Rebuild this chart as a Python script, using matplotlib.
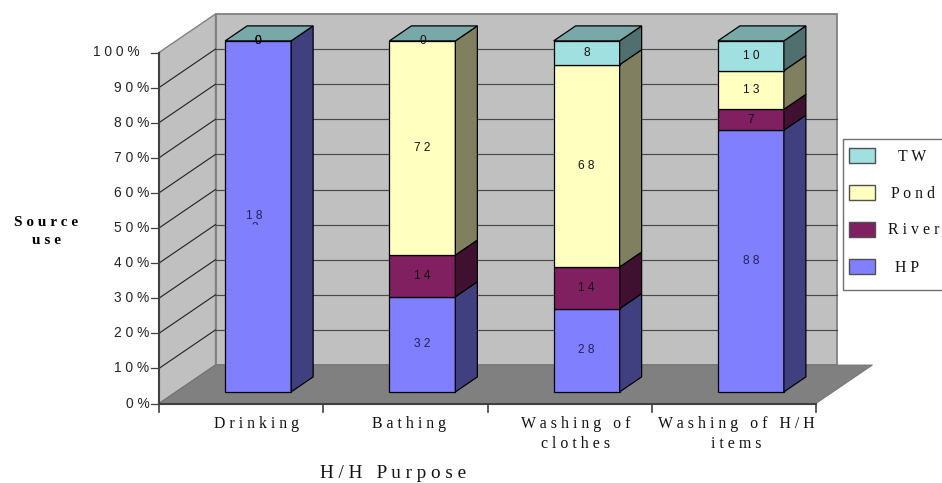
import matplotlib
matplotlib.use('Agg')
import matplotlib.pyplot as plt
from matplotlib.patches import Polygon, Rectangle

categories = [['D r i n k i n g'], ['B a t h i n g'], ['W a s h i n g   o f', 'c l o t h e s'], ['W a s h i n g   o f   H / H', 'i t e m s']]
cat_nudge = [0.095, 0.025, 0.035, 0.012]
series = ['H P', 'R i v e r', 'P o n d', 'T W']
hp = [182, 32, 28, 88]
river = [0, 14, 14, 7]
pond = [0, 72, 68, 13]
tw = [0, 0, 8, 10]
values = [hp, river, pond, tw]
ticks = [0, 10, 20, 30, 40, 50, 60, 70, 80, 90, 100]

front = ['#8080FF', '#802060', '#FFFFC0', '#A0E0E0']
side = ['#404080', '#401030', '#808060', '#507070']
top_col = '#78A8A8'
legend_x = [907, 914, 913, 912]

PX_X = 164.25   # px per category
PX_Y = 3.51     # px per percent
X0, Y0 = 159, 403.5
WALL_DX, WALL_DY = 56.5 / PX_X, 38.5 / PX_Y
WALL_RIGHT = (837 - X0) / PX_X
BAR_W = 66 / PX_X
BAR_DX, BAR_DY = 22 / PX_X, 15 / PX_Y
SHIFT_X, SHIFT_Y = 17 / PX_X, 11.6 / PX_Y

sans = 'Liberation Sans'
serif = 'Liberation Serif'

fig = plt.figure(figsize=(9.42, 4.83), dpi=100)
ax = fig.add_axes([0, 0, 1, 1])
ax.set_xlim(-X0 / PX_X, (942 - X0) / PX_X)
ax.set_ylim((Y0 - 483) / PX_Y, Y0 / PX_Y)
ax.axis('off')

# walls and floor
wall_edge = '#808080'
ax.add_patch(Polygon([(WALL_DX, WALL_DY), (WALL_RIGHT, WALL_DY), (WALL_RIGHT, 100 + WALL_DY), (WALL_DX, 100 + WALL_DY)],
                     fc='#C0C0C0', ec=wall_edge, lw=1.3, zorder=1))
ax.add_patch(Polygon([(0, 0), (WALL_DX, WALL_DY), (WALL_DX, 100 + WALL_DY), (0, 100)],
                     fc='#C0C0C0', ec=wall_edge, lw=1.0, zorder=1))
ax.add_patch(Polygon([(0, 0), (4, 0), (4 + WALL_DX, WALL_DY), (WALL_DX, WALL_DY)],
                     fc='#808080', ec='#707070', lw=0.6, zorder=1))

# gridlines run along the side wall then across the back
grid_end = {90: 3.832, 80: 3.82}
for t in ticks[1:-1]:
    ax.plot([0, WALL_DX], [t, t + WALL_DY], color='#202020', lw=0.8, zorder=2)
    ax.plot([WALL_DX, grid_end.get(t, WALL_RIGHT)], [t + WALL_DY, t + WALL_DY], color='#484848', lw=0.85, zorder=2)

# axes lines, ticks, tick labels
ax.plot([0, 0], [0, 100], color='#404040', lw=1.5, zorder=3)
ax.plot([0, 4], [0, 0], color='#404040', lw=1.5, zorder=3)
for t in ticks:
    ax.plot([-8 / PX_X, 0], [t, t], color='#404040', lw=0.9, zorder=3)
    lab = ' '.join(str(t) + '%')
    xoff = -19 / PX_X if t == 100 else -9.5 / PX_X
    ax.text(xoff, t, lab, ha='right', va='center', family=sans, fontsize=9.9, color='#222222')
for i in range(5):
    ax.plot([i, i], [0, -8 / PX_Y], color='#404040', lw=1.2, zorder=3)
for i, lines in enumerate(categories):
    for j, line in enumerate(lines):
        ax.text(i + 0.5 + cat_nudge[i], (Y0 - 424 - 20 * j) / PX_Y, line, ha='center', va='center',
                family=serif, fontsize=11.4, color='#111111')

# stacked bars, each segment gets a front and a side face
for i in range(4):
    total = sum(s[i] for s in values)
    x0 = i + 0.5 - BAR_W / 2 + SHIFT_X
    x1 = x0 + BAR_W
    base = SHIFT_Y
    for k, s in enumerate(values):
        h = s[i] / total * 100
        if h > 0:
            ax.add_patch(Polygon([(x0, base), (x1, base), (x1, base + h), (x0, base + h)],
                                 fc=front[k], ec='black', lw=0.9, zorder=4))
            ax.add_patch(Polygon([(x1, base), (x1 + BAR_DX, base + BAR_DY), (x1 + BAR_DX, base + h + BAR_DY), (x1, base + h)],
                                 fc=side[k], ec='black', lw=0.9, zorder=4))
        cx = (x0 + x1) / 2
        cy = base + h / 2
        if s[i] > 100:
            # long label wraps, second line is cut off by its box
            txt = ax.annotate(str(s[i])[:2].replace('', ' ').strip() + '\n' + str(s[i])[2:], (cx - 3.5 / PX_X, cy),
                              xytext=(0, 4.6), textcoords='offset points', ha='center', va='top',
                              family=sans, fontsize=8.6, color='#20205A', zorder=6, linespacing=1.05)
            clip = Rectangle((x0, cy - 8.8 / PX_Y), BAR_W, 30 / PX_Y, transform=ax.transData)
            txt.set_clip_path(clip)
            txt.set_clip_on(True)
        else:
            ax.text(cx, cy, ' '.join(str(s[i])), ha='center', va='center', family=sans, fontsize=8.6,
                    color='#20205A' if k == 0 else '#111111', zorder=6)
        base += h
    ax.add_patch(Polygon([(x0, base), (x1, base), (x1 + BAR_DX, base + BAR_DY), (x0 + BAR_DX, base + BAR_DY)],
                         fc=top_col, ec='black', lw=0.9, zorder=5))

# legend and outer titles sit in pixel coordinates
over = fig.add_axes([0, 0, 1, 1])
over.set_xlim(0, 942)
over.set_ylim(483, 0)
over.axis('off')
over.patch.set_alpha(0)
over.add_patch(Rectangle((843, 138.5), 104, 151, fc='white', ec='#707070', lw=1.0))
legend_y = [266, 229, 192, 155.5]
for k in range(4):
    over.add_patch(Rectangle((849, legend_y[k] - 7.5), 25.5, 15, fc=front[k], ec='#505050', lw=1.0))
    over.text(legend_x[k], legend_y[k] + 1.5, series[k], ha='center', va='center', family=serif, fontsize=11.4, color='#111111')
over.text(46, 222, 'S o u r c e', ha='center', va='center', family=serif, fontweight='bold', fontsize=11, color='black')
over.text(46, 241, 'u s e', ha='center', va='center', family=serif, fontweight='bold', fontsize=11, color='black')
over.text(393, 473, 'H / H   P u r p o s e', ha='center', va='center', family=serif, fontsize=13.8, color='#111111')

fig.savefig('out.png', dpi=100)
